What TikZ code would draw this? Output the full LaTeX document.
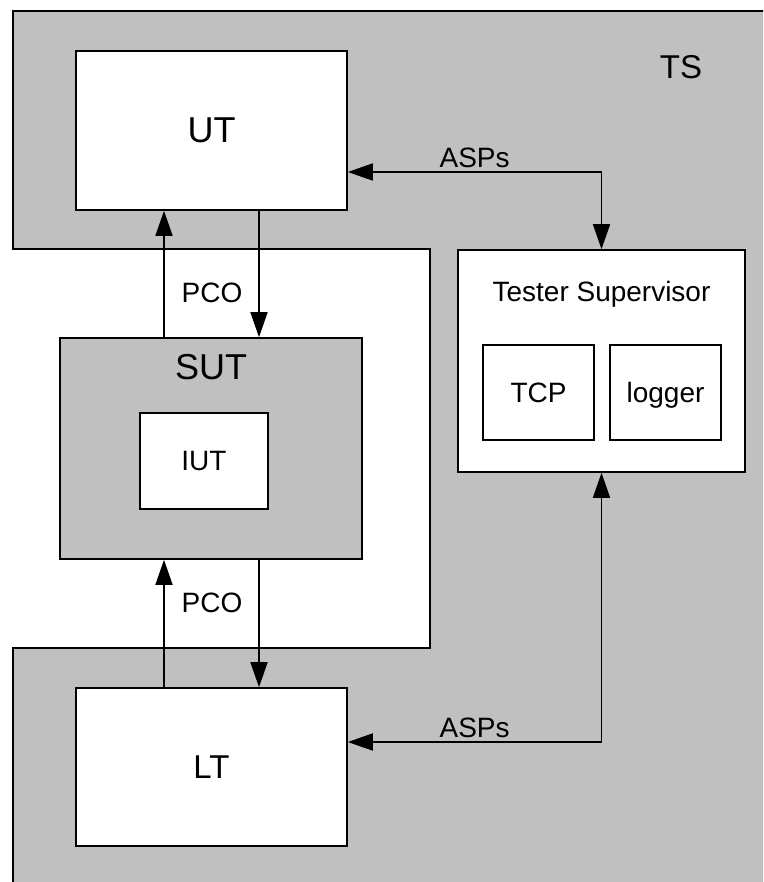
\documentclass[tikz,border=0pt]{standalone}
\usepackage{fontspec}
\setmainfont{Liberation Sans}
\usetikzlibrary{arrows.meta}
\definecolor{tsgray}{HTML}{C0C0C0}

\begin{document}
\begin{tikzpicture}[x=1pt, y=-1pt,
      box/.style={draw, fill=white, line width=1.6pt, inner sep=0pt,
                  font=\fontsize{28}{30}\selectfont},
      lbl/.style={font=\fontsize{28}{30}\selectfont},
      big/.style={font=\fontsize{36}{40}\selectfont},
      arr/.style={-{Triangle[length=25pt, width=17pt]}, line width=1.6pt},
      dblarr/.style={{Triangle[length=25pt, width=17pt]}-{Triangle[length=25pt, width=17pt]},
                     line width=1.6pt}]
    \useasboundingbox (0,0) rectangle (763,882);
    \clip (0,0) rectangle (763,882);
    \draw[line width=1.6pt, fill=tsgray] (13,900) -- (13,648) -- (430,648) -- (430,249)
      -- (13,249) -- (13,11) -- (790,11) -- (790,900) -- cycle;
    \node[font=\fontsize{33}{36}\selectfont] (tslabel) at (681,67) {TS};
    \node[box, big, minimum width=271pt, minimum height=159pt] (UT) at (211.5,130.5) {UT};
    \node[box, minimum width=287pt, minimum height=222pt] (sup) at (601.5,361) {};
    \node[lbl] (suptitle) at (601.5,294) {Tester Supervisor};
    \node[box, minimum width=111pt, minimum height=95pt] (TCP) at (538.5,392.5) {TCP};
    \node[box, text depth=0pt, minimum width=111pt, minimum height=95pt] (logger) at (665.5,392.5) {logger};
    \node[box, fill=tsgray, minimum width=302pt, minimum height=221pt] (SUT) at (211,448.5) {};
    \node[big] (sutlabel) at (211,367) {SUT};
    \node[box, minimum width=128pt, minimum height=96pt] (IUT) at (204,461) {IUT};
    \node[box, font=\fontsize{33}{36}\selectfont, minimum width=271pt, minimum height=158pt] (LT) at (211.5,767) {LT};
    \node[lbl] (pcotop) at (212,293) {PCO};
    \node[lbl] (pcobot) at (212,603) {PCO};
    \draw[arr] ([xshift=-47pt]SUT.north) -- ([xshift=-47pt]SUT.north |- UT.south);
    \draw[arr] ([xshift=47.5pt]UT.south) -- ([xshift=47.5pt]UT.south |- SUT.north);
    \draw[arr] ([xshift=-47.5pt]LT.north) -- ([xshift=-47.5pt]LT.north |- SUT.south);
    \draw[arr] ([xshift=48pt]SUT.south) -- ([xshift=48pt]SUT.south |- LT.north);
    \draw[dblarr] ([yshift=-41.5pt]UT.east) -| (sup.north) node[lbl, above, pos=0.25, inner sep=3pt] {ASPs};
    \draw[dblarr] ([yshift=25pt]LT.east) -| (sup.south) node[lbl, above, pos=0.25, inner sep=3pt] {ASPs};
  \end{tikzpicture}
\end{document}
